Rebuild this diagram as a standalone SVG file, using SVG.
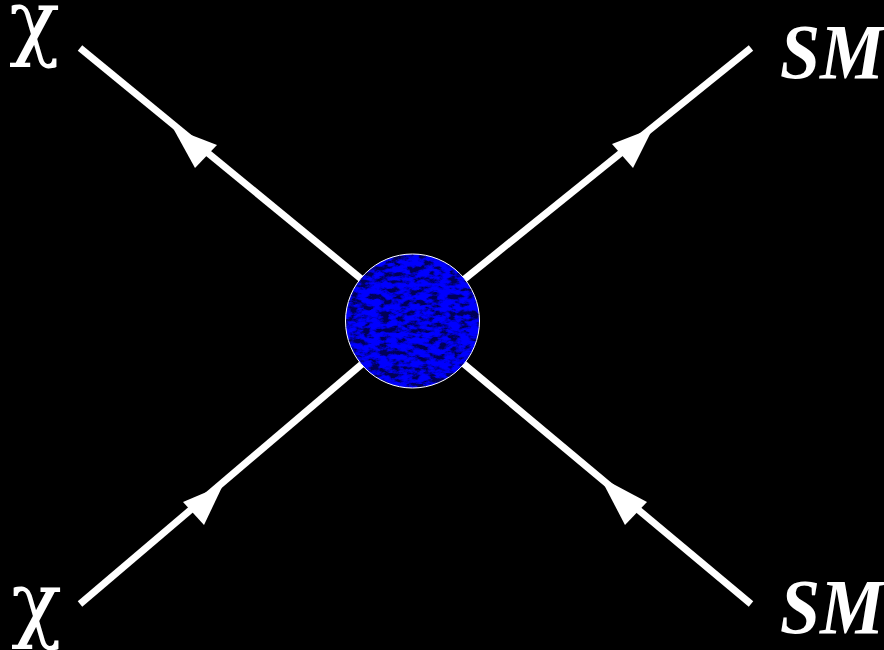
<svg xmlns="http://www.w3.org/2000/svg" width="884" height="650" viewBox="0 0 884 650">
<style>
.line{stroke:#fff;stroke-width:7;fill:none}
.arr{fill:#fff}
.chi{font-family:"DejaVu Serif","Liberation Serif",serif;font-size:84px;fill:#fff}
.sm{font-family:"Liberation Serif","DejaVu Serif",serif;font-size:72px;font-style:italic;font-weight:bold;fill:#fff}
</style>
<defs>
<filter id="tex" x="0" y="0" width="100%" height="100%">
<feTurbulence type="fractalNoise" baseFrequency="0.1 0.18" numOctaves="4" seed="11" result="n"/>
<feColorMatrix in="n" type="matrix" values="0 0 0 0 0  0 0 0 0 0  3 0 0 0 -1  0 0 0 0 1" result="b"/>
<feComponentTransfer in="b"><feFuncR type="table" tableValues="0 0 0.04 0.2 0.5"/><feFuncG type="table" tableValues="0 0 0.04 0.22 0.55"/><feFuncB type="table" tableValues="0.1 0.35 0.75 1 1"/></feComponentTransfer>
</filter>
<clipPath id="cc"><circle cx="412.5" cy="321" r="67"/></clipPath>
</defs>
<rect width="884" height="650" fill="#000"/>
<g id="connectors">
<line class="line" x1="80" y1="48" x2="412.5" y2="321"/>
<line class="line" x1="751" y1="48" x2="412.5" y2="321"/>
<line class="line" x1="80" y1="604" x2="412.5" y2="321"/>
<line class="line" x1="751" y1="604" x2="412.5" y2="321"/>
<polygon class="arr" points="173,128 195,168 217,145"/>
<polygon class="arr" points="653,128 612,144 633,168"/>
<polygon class="arr" points="223,485 183,502 204,525"/>
<polygon class="arr" points="600,477 647,502 625,525"/>
</g>
<g id="blob">
<rect x="345" y="254" width="135" height="135" filter="url(#tex)" clip-path="url(#cc)"/>
<circle cx="412.5" cy="321" r="67" fill="none" stroke="#fff" stroke-width="1"/>
</g>
<g id="chi-top"><text class="chi" x="9" y="49">χ</text></g>
<g id="chi-bottom"><text class="chi" x="11" y="631">χ</text></g>
<g id="sm-top"><text class="sm" transform="translate(780,78) scale(1,1.1)">SM</text></g>
<g id="sm-bottom"><text class="sm" transform="translate(780,633) scale(1,1.1)">SM</text></g>
</svg>
